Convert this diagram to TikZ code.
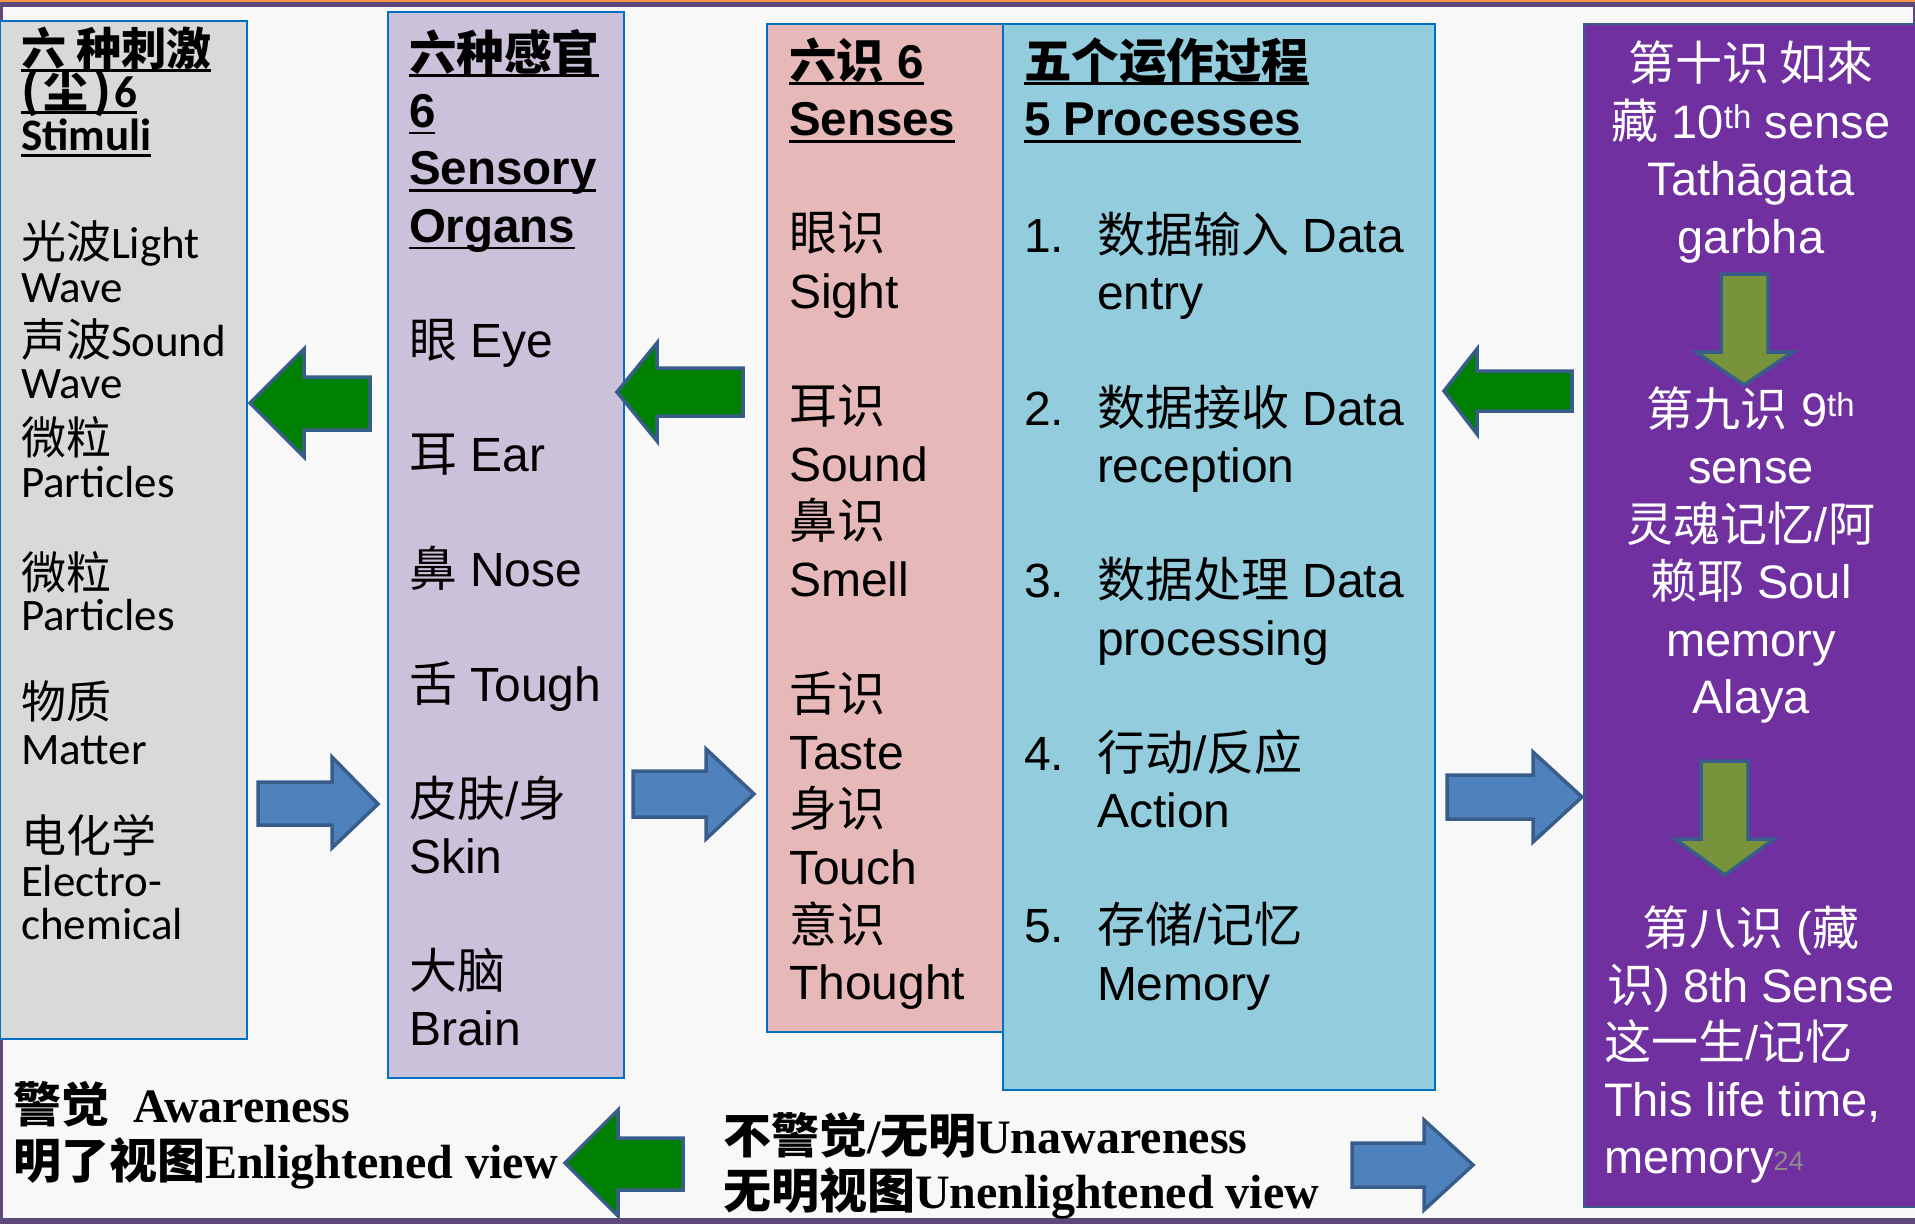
\documentclass[tikz,border=0pt]{standalone}
\usepackage{fontspec}
\setmainfont{Liberation Sans}
\newfontfamily\arial{Liberation Sans}
\newfontfamily\calib{Carlito}
\newfontfamily\tnr{Liberation Serif}
\newfontfamily\cjk{Noto Sans CJK SC}
\newsavebox{\myulbox}
\newcommand{\myul}[1]{\sbox{\myulbox}{#1}\rlap{\rule[-7pt]{\wd\myulbox}{2.6pt}}\usebox{\myulbox}}
\newcommand{\zh}[1]{{\cjk #1}}
\definecolor{bgc}{HTML}{F8F8F8}
\definecolor{greyf}{HTML}{D9D9D9}
\definecolor{lavf}{HTML}{CCC1DA}
\definecolor{pinkf}{HTML}{E6B9B8}
\definecolor{bluef}{HTML}{93CDDD}
\definecolor{purf}{HTML}{7030A0}
\definecolor{bord}{HTML}{0070C0}
\definecolor{arrb}{HTML}{385D8A}
\definecolor{greenf}{HTML}{008000}
\definecolor{bluea}{HTML}{4F81BD}
\definecolor{olivef}{HTML}{77933C}
\definecolor{barp}{HTML}{5F497A}
\definecolor{baro}{HTML}{F79646}
\definecolor{pgnum}{HTML}{8C8C8C}
\tikzset{
  colbox/.style={draw=bord, line width=2pt},
  garrow/.style={fill=greenf, draw=arrb, line width=3.5pt, line join=miter},
  barrow/.style={fill=bluea, draw=arrb, line width=3.5pt, line join=miter},
  oarrow/.style={fill=olivef, draw=arrb, line width=3.5pt, line join=miter},
  txt/.style={inner sep=0pt, outer sep=0pt, anchor=base west, text=black},
  gtxt/.style={txt, font=\calib\fontsize{45}{45}\selectfont},
  gtitle/.style={gtxt, font=\calib\bfseries\fontsize{45}{45}\selectfont},
  atxt/.style={txt, font=\arial\fontsize{48}{48}\selectfont},
  atitle/.style={txt, font=\arial\bfseries\fontsize{47.5}{47.5}\selectfont},
  wtxt/.style={inner sep=0pt, outer sep=0pt, anchor=base, text=white, font=\arial\fontsize{47}{47}\selectfont},
  wltxt/.style={wtxt, anchor=base west},
  btxt/.style={txt, font=\tnr\bfseries\fontsize{48}{48}\selectfont},
}
\begin{document}
\begin{tikzpicture}[x=1pt, y=-1pt]
\useasboundingbox (0,0) rectangle (1915,1224);
% background and frame bars
\fill[bgc] (0,0) rectangle (1915,1224);
\fill[barp] (0,0) rectangle (1915,6.5);
\fill[baro] (0,0) rectangle (1915,1.5);
\fill[barp] (0,1218) rectangle (1915,1224);
\fill[barp] (0,6) rectangle (3,1224);
\fill[barp] (1913,6) rectangle (1915,24);

% column boxes
\draw[colbox, fill=greyf] (0,21) rectangle (247,1039);
\draw[colbox, fill=lavf] (388,12) rectangle (624,1078);
\draw[colbox, fill=pinkf] (767,24) rectangle (1003,1032);
\draw[colbox, fill=bluef] (1003,24) rectangle (1435,1090);
\draw[draw=arrb, line width=1.5pt, fill=purf] (1584,24) rectangle (1916,1207);

% block arrows
\draw[garrow] (250,403) -- (304,349) -- (304,377) -- (370,377) -- (370,430) -- (304,430) -- (304,457) -- cycle;
\draw[barrow] (378,804) -- (332,757) -- (332,782) -- (258,782) -- (258,825) -- (332,825) -- (332,848) -- cycle;
\draw[garrow] (617,392) -- (657,343) -- (657,368) -- (743,368) -- (743,416) -- (657,416) -- (657,441) -- cycle;
\draw[barrow] (754,794) -- (706,749) -- (706,771) -- (633,771) -- (633,817) -- (706,817) -- (706,839) -- cycle;
\draw[garrow] (1444,391) -- (1477,349) -- (1477,371) -- (1572,371) -- (1572,411) -- (1477,411) -- (1477,434) -- cycle;
\draw[barrow] (1582,797) -- (1533,752) -- (1533,775) -- (1447,775) -- (1447,819) -- (1533,819) -- (1533,842) -- cycle;
\draw[garrow] (565,1163) -- (618,1110) -- (618,1138) -- (683,1138) -- (683,1190) -- (618,1190) -- (618,1216) -- cycle;
\draw[barrow] (1473,1165) -- (1424,1120) -- (1424,1143) -- (1352,1143) -- (1352,1187) -- (1424,1187) -- (1424,1210) -- cycle;
\draw[oarrow] (1744,385) -- (1793,352) -- (1768,352) -- (1768,274) -- (1721,274) -- (1721,352) -- (1696,352) -- cycle;
\draw[oarrow] (1725,875) -- (1774,839) -- (1748,839) -- (1748,761) -- (1701,761) -- (1701,839) -- (1675,839) -- cycle;

% grey column: stimuli
\node[gtitle] (gt1) at (21,65) {\myul{\zh{六 种刺激}}};
\node[gtitle] (gt2) at (21,107) {\myul{\zh{(\kern5pt 尘\kern5pt)}\kern2pt 6}};
\node[gtitle] (gt3) at (21,150) {\myul{Stimuli}};
\node[gtxt] (g1) at (21,258) {\zh{光波}Light};
\node[gtxt] (g2) at (21,302) {Wave};
\node[gtxt] (g3) at (21,356) {\zh{声波}Sound};
\node[gtxt] (g4) at (21,398) {Wave};
\node[gtxt] (g5) at (21,454) {\zh{微粒}};
\node[gtxt] (g6) at (21,497) {Particles};
\node[gtxt] (g7) at (21,589) {\zh{微粒}};
\node[gtxt] (g8) at (21,630) {Particles};
\node[gtxt] (g9) at (21,718) {\zh{物质}};
\node[gtxt] (g10) at (21,764) {Matter};
\node[gtxt] (g11) at (21,852) {\zh{电化学}};
\node[gtxt] (g12) at (21,896) {Electro-};
\node[gtxt] (g13) at (21,939) {chemical};

% lavender column: sensory organs
\node[atitle] (lt1) at (409,70) {\myul{\zh{六种感官}}};
\node[atitle] (lt2) at (409,127.4) {\myul{6}};
\node[atitle] (lt3) at (409,184.8) {\myul{Sensory}};
\node[atitle] (lt4) at (409,242.2) {\myul{Organs}};
\node[atxt] (l1) at (409,357) {\zh{眼} Eye};
\node[atxt] (l2) at (409,471.8) {\zh{耳} Ear};
\node[atxt] (l3) at (409,586.6) {\zh{鼻} Nose};
\node[atxt] (l4) at (409,701.4) {\zh{舌} Tough};
\node[atxt] (l5) at (409,816.2) {\zh{皮肤}/\zh{身}};
\node[atxt] (l6) at (409,873.6) {Skin};
\node[atxt] (l7) at (409,988.4) {\zh{大脑}};
\node[atxt] (l8) at (409,1045.8) {Brain};

% pink column: six senses
\node[atitle] (pt1) at (789,78) {\myul{\zh{六识} 6}};
\node[atitle] (pt2) at (789,135.6) {\myul{Senses}};
\node[atxt] (p1) at (789,250.8) {\zh{眼识}};
\node[atxt] (p2) at (789,308.4) {Sight};
\node[atxt] (p3) at (789,423.6) {\zh{耳识}};
\node[atxt] (p4) at (789,481.2) {Sound};
\node[atxt] (p5) at (789,538.8) {\zh{鼻识}};
\node[atxt] (p6) at (789,596.4) {Smell};
\node[atxt] (p7) at (789,711.6) {\zh{舌识}};
\node[atxt] (p8) at (789,769.2) {Taste};
\node[atxt] (p9) at (789,826.8) {\zh{身识}};
\node[atxt] (p10) at (789,884.4) {Touch};
\node[atxt] (p11) at (789,942) {\zh{意识}};
\node[atxt] (p12) at (789,999.6) {Thought};

% blue column: five processes
\node[atitle] (bt1) at (1024,78) {\myul{\zh{五个运作过程}}};
\node[atitle] (bt2) at (1024,135.6) {\myul{5 Processes}};
\node[atxt] (n1) at (1024,252) {1.};
\node[atxt] (b1) at (1097,252) {\zh{数据输入} Data};
\node[atxt] (b1b) at (1097,309.5) {entry};
\node[atxt] (n2) at (1024,425) {2.};
\node[atxt] (b2) at (1097,425) {\zh{数据接收} Data};
\node[atxt] (b2b) at (1097,482.5) {reception};
\node[atxt] (n3) at (1024,597.5) {3.};
\node[atxt] (b3) at (1097,597.5) {\zh{数据处理} Data};
\node[atxt] (b3b) at (1097,655) {processing};
\node[atxt] (n4) at (1024,770) {4.};
\node[atxt] (b4) at (1097,770) {\zh{行动}/\zh{反应}};
\node[atxt] (b4b) at (1097,827.5) {Action};
\node[atxt] (n5) at (1024,942.5) {5.};
\node[atxt] (b5) at (1097,942.5) {\zh{存储}/\zh{记忆}};
\node[atxt] (b5b) at (1097,1000) {Memory};

% purple column
\node[wtxt] (w1) at (1751,80) {\zh{第十识 如來}};
\node[wtxt] (w2) at (1751,138) {\zh{藏} 10\textsuperscript{th} sense};
\node[wtxt] (w3) at (1751,195) {Tathāgata};
\node[wtxt] (w4) at (1751,253) {garbha};
\node[wtxt] (w5) at (1751,426) {\zh{第九识} 9\textsuperscript{th}};
\node[wtxt] (w6) at (1751,483) {sense};
\node[wtxt] (w7) at (1751,541) {\zh{灵魂记忆}/\zh{阿}};
\node[wtxt] (w8) at (1751,598) {\zh{赖耶} Soul};
\node[wtxt] (w9) at (1751,656) {memory};
\node[wtxt] (w10) at (1751,713) {Alaya};
\node[wtxt] (w11) at (1751,945) {\zh{第八识} (\zh{藏}};
\node[wtxt] (w12) at (1751,1002) {\zh{识}) 8th Sense};
\node[wltxt] (w13) at (1604,1059) {\zh{这一生}/\zh{记忆}};
\node[wltxt] (w14) at (1604,1116) {This life time,};
\node[wltxt] (w15) at (1604,1173) {memory{\color{pgnum}\fontsize{27}{27}\selectfont\raisebox{3pt}{24}}};

% bottom statements
\node[btxt] (s1) at (13,1122) {\zh{警觉}\ \ Awareness};
\node[btxt] (s2) at (13,1178) {\zh{明了视图}Enlightened view};
\node[btxt] (s3) at (723,1153) {\zh{不警觉}/\zh{无明}Unawareness};
\node[btxt] (s4) at (723,1208) {\zh{无明视图}Unenlightened view};
\end{tikzpicture}
\end{document}
